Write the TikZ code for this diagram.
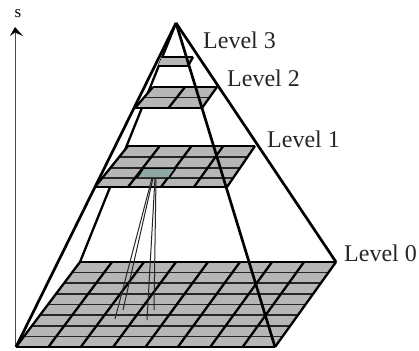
\documentclass[tikz,border=0pt]{standalone}
\usepackage{fontspec}
\setmainfont{Liberation Serif}
\usetikzlibrary{calc}
\definecolor{cellgrey}{HTML}{B6B6B6}
\definecolor{cellteal}{HTML}{8FA8A6}
\tikzset{
  heavy/.style={line width=2.8pt,black},
  gridline/.style={line width=2.3pt,black},
  rowline/.style={line width=1.6pt,black!85},
  pyramidedge/.style={line width=2.7pt,black},
  backedge/.style={line width=2.3pt,black},
  ray/.style={line width=1pt,black!85},
  levellabel/.style={anchor=base west,inner sep=0pt,font=\fontsize{24}{24}\selectfont,text=black!85},
}
% plate: tl, tr, br, bl, columns, row fractions
\newcommand{\plate}[6]{%
  \fill[cellgrey] (#1) -- (#2) -- (#3) -- (#4) -- cycle;
  \foreach \f in {#6}
    \draw[rowline] ($(#1)!\f!(#4)$) -- ($(#2)!\f!(#3)$);
  \foreach \i in {0,...,#5}
    \draw[gridline] ($(#4)!{\i/#5}!(#3)$) -- ($(#1)!{\i/#5}!(#2)$);
  \draw[heavy] (#1) -- (#2);
  \draw[heavy] (#4) -- (#3);
}
\begin{document}
\begin{tikzpicture}[x=1pt,y=-1pt]
\useasboundingbox (0,0) rectangle (419,350);
\fill[white] (0,0) rectangle (419,350);
% corners
\coordinate (apex) at (176,23);
\coordinate (a) at (80,262);  \coordinate (b) at (336,262);
\coordinate (c) at (275,347); \coordinate (d) at (16,347);
\coordinate (e) at (128,146); \coordinate (f) at (255,146);
\coordinate (g) at (227,187); \coordinate (h) at (95,187);
\coordinate (i) at (153,87);  \coordinate (j) at (217,87);
\coordinate (k) at (202,108); \coordinate (l) at (135,108);
\coordinate (m) at (162,57);  \coordinate (n) at (193,57);
\coordinate (o) at (188,66);  \coordinate (p) at (158,66);
% axis
\coordinate (axisfoot) at (15,347);
\coordinate (axishead) at (15,27);
\draw[line width=0.8pt,black!70] (axisfoot) -- (15,33);
\fill[black] (axishead) -- (23,36) -- (15,32.5) -- (10,36) -- cycle;
\node[inner sep=0pt,font=\fontsize{17}{17}\selectfont] (axislabel) at (18,14) {s};
% back edges
\draw[backedge] (apex) -- (a);
% plates
\plate{a}{b}{c}{d}{8}{0.125,0.25,0.375,0.5,0.625,0.75,0.875}
\plate{e}{f}{g}{h}{4}{0.27,0.54,0.78}
\plate{i}{j}{k}{l}{2}{0.5}
\fill[cellgrey] (m) -- (n) -- (o) -- (p) -- cycle;
\draw[heavy] (m) -- (n);
\draw[heavy] (p) -- (o);
\draw[gridline] (n) -- (o);
% selected cell
\coordinate (q) at (143,168.5); \coordinate (r) at (175.5,168.5);
\coordinate (s) at (169.5,177); \coordinate (t) at (137.5,177);
\fill[cellteal] (q) -- (r) -- (s) -- (t) -- cycle;
\draw[line width=1.8pt] (q) -- (r);
\draw[line width=1.8pt] (q) -- (t);
\draw[line width=1.8pt] (r) -- (s);
% rays
\coordinate (u1) at (115,319); \coordinate (u2) at (123,310);
\coordinate (u3) at (147,320); \coordinate (u4) at (154,310);
\coordinate (v1) at (152,178); \coordinate (v2) at (153,178);
\coordinate (v3) at (155,178); \coordinate (v4) at (156,178);
\draw[ray] (v1) -- (u1);
\draw[ray] (v2) -- (u2);
\draw[ray] (v3) -- (u3);
\draw[ray] (v4) -- (u4);
% pyramid edges
\draw[pyramidedge] (apex) -- (d);
\draw[pyramidedge] (apex) -- (c);
\draw[pyramidedge] (apex) -- (b);
% labels
\node[levellabel] (l3) at (203,49) {Level 3};
\node[levellabel] (l2) at (227,87) {Level 2};
\node[levellabel] (l1) at (267,147) {Level 1};
\node[levellabel] (l0) at (344,261) {Level 0};
\end{tikzpicture}
\end{document}
